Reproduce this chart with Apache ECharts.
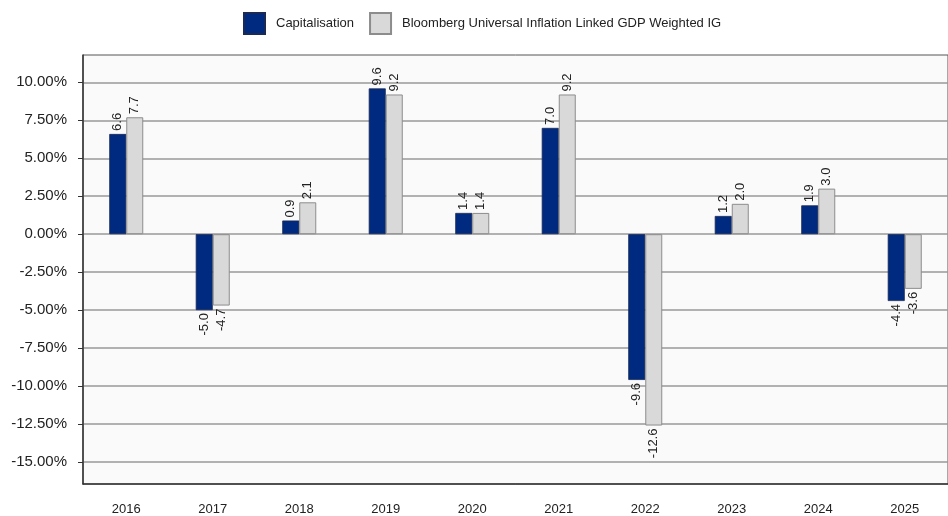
<!DOCTYPE html>
<html>
<head>
<meta charset="utf-8">
<script src="https://cdn.jsdelivr.net/npm/echarts@6/dist/echarts.min.js"></script>
<style>
  html, body { margin: 0; padding: 0; background: #fff; }
  #chart { width: 948px; height: 516px; }
</style>
</head>
<body>
<div id="chart"></div>
<script>
// 数据
const years = ['2016', '2017', '2018', '2019', '2020', '2021', '2022', '2023', '2024', '2025'];
const capitalisation = [6.6, -5.0, 0.9, 9.6, 1.4, 7.0, -9.6, 1.2, 1.9, -4.4];
const bloomberg = [7.7, -4.7, 2.1, 9.2, 1.4, 9.2, -12.6, 2.0, 3.0, -3.6];
const yTicks = [-15, -12.5, -10, -7.5, -5, -2.5, 0, 2.5, 5, 7.5, 10];

const font = "'Liberation Sans', Arial, sans-serif";

// 正值标签在上方，负值标签在下方
function withLabels(values) {
    return values.map(v => ({
        value: v,
        label: v >= 0
            ? { position: 'top', align: 'left', distance: 3 }
            : { position: 'bottom', align: 'right', distance: 3 }
    }));
}

let chart = echarts.init(document.getElementById('chart'), null, { renderer: 'canvas' });

let barLabel = {
    show: true,
    rotate: 90,
    verticalAlign: 'middle',
    fontFamily: font,
    fontSize: 13,
    color: '#222',
    formatter: p => p.value.toFixed(1)
};

let option = {
    animation: false,
    backgroundColor: '#fff',
    legend: {
        left: 238,
        top: 7,
        icon: 'rect',
        itemWidth: 21,
        itemHeight: 21,
        itemGap: 15,
        textStyle: { fontFamily: font, fontSize: 13, color: '#222', padding: [0, 0, 0, 6] },
        data: ['Capitalisation', 'Bloomberg Universal Inflation Linked GDP Weighted IG']
    },
    grid: {
        left: 83,
        top: 55,
        width: 877,
        bottom: 32,
        show: true,
        backgroundColor: '#fafafa',
        borderColor: '#555',
        borderWidth: 1
    },
    xAxis: {
        type: 'category',
        data: years,
        axisLine: { onZero: false, lineStyle: { color: '#333', width: 1.5 } },
        axisTick: { alignWithLabel: true, length: 5, lineStyle: { color: '#333' } },
        axisLabel: { fontFamily: font, fontSize: 13, color: '#222', margin: 19 },
        splitLine: { show: false }
    },
    yAxis: {
        type: 'value',
        min: -16.45,
        max: 11.8,
        axisLine: { show: true, lineStyle: { color: '#333', width: 1.5 } },
        axisTick: { show: true, length: 5, customValues: yTicks, lineStyle: { color: '#333' } },
        axisLabel: {
            customValues: yTicks,
            fontFamily: font,
            fontSize: 15,
            color: '#222',
            margin: 16,
            formatter: v => v.toFixed(2) + '%'
        },
        splitLine: { show: true, lineStyle: { color: '#999', width: 1.5 } }
    },
    series: [
        {
            name: 'Capitalisation',
            type: 'bar',
            barWidth: 17,
            barGap: '0%',
            data: withLabels(capitalisation),
            itemStyle: { color: '#002a7f', borderColor: '#1a2a55', borderWidth: 0.8 },
            label: barLabel
        },
        {
            name: 'Bloomberg Universal Inflation Linked GDP Weighted IG',
            type: 'bar',
            barWidth: 17,
            barGap: '0%',
            data: withLabels(bloomberg),
            itemStyle: { color: '#d9d9d9', borderColor: '#8c8c8c', borderWidth: 1 },
            label: barLabel
        }
    ]
};
chart.setOption(option);
</script>
</body>
</html>
